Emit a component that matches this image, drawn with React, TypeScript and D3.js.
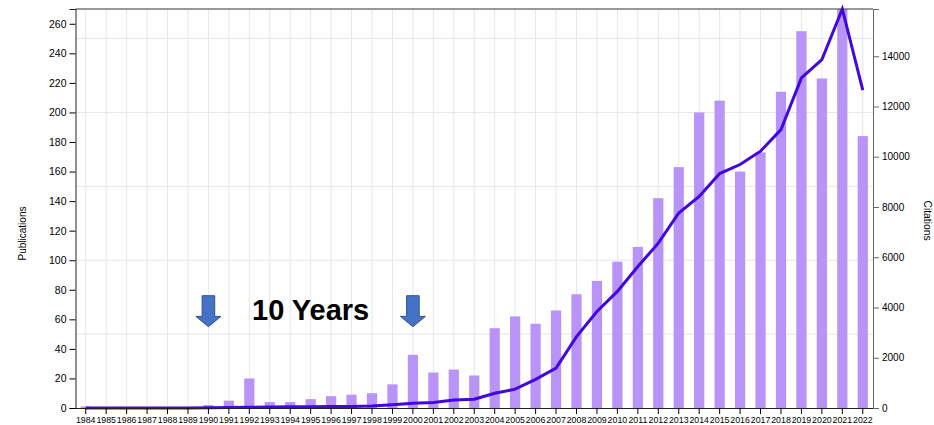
import React, { useEffect, useRef } from 'react';
import * as d3 from 'd3';

const years = [
  '1984', '1985', '1986', '1987', '1988', '1989', '1990', '1991', '1992', '1993',
  '1994', '1995', '1996', '1997', '1998', '1999', '2000', '2001', '2002', '2003',
  '2004', '2005', '2006', '2007', '2008', '2009', '2010', '2011', '2012', '2013',
  '2014', '2015', '2016', '2017', '2018', '2019', '2020', '2021', '2022',
];

const publications = [
  1, 0, 0, 0, 0, 0, 2, 5, 20, 4,
  4, 6, 8, 9, 10, 16, 36, 24, 26, 22,
  54, 62, 57, 66, 77, 86, 99, 109, 142, 163,
  200, 208, 160, 173, 214, 255, 223, 270, 184,
];

const citations = [
  0, 0, 0, 0, 0, 0, 10, 20, 30, 40,
  45, 50, 55, 60, 75, 130, 190, 215, 320, 350,
  586, 750, 1140, 1590, 2840, 3840, 4640, 5630, 6560, 7760,
  8420, 9330, 9690, 10220, 11080, 13140, 13870, 15880, 12650,
];

const gridValues = [50, 100, 150, 200, 250];
const arrowYears = ['1990', '2000'];
const annotation = '10 Years';

const FONT = 'Helvetica, Arial, "Liberation Sans", sans-serif';

function App() {
  const svgRef = useRef<SVGSVGElement>(null);

  const width = 934;
  const height = 425;
  const margin = { top: 9, right: 61, bottom: 17, left: 75.5 };

  useEffect(() => {
    const svg = d3.select(svgRef.current);
    svg.selectAll('*').remove();

    const x = d3.scaleBand<string>()
      .domain(years)
      .range([margin.left, width - margin.right])
      .paddingInner(0.5)
      .paddingOuter(0.25);

    const yLeft = d3.scaleLinear()
      .domain([0, d3.max(publications) as number])
      .range([height - margin.bottom, margin.top]);

    const yRight = d3.scaleLinear()
      .domain([0, d3.max(citations) as number])
      .range([height - margin.bottom, margin.top]);

    const cx = (d: string) => (x(d) as number) + x.bandwidth() / 2;

    // grid
    svg.append('g')
      .selectAll('line')
      .data(years)
      .join('line')
      .attr('x1', d => cx(d))
      .attr('x2', d => cx(d))
      .attr('y1', margin.top)
      .attr('y2', height - margin.bottom)
      .attr('stroke', '#e6e6e6')
      .attr('stroke-width', 1);

    svg.append('g')
      .selectAll('line')
      .data(gridValues)
      .join('line')
      .attr('x1', margin.left)
      .attr('x2', width - margin.right)
      .attr('y1', d => yLeft(d))
      .attr('y2', d => yLeft(d))
      .attr('stroke', '#e6e6e6')
      .attr('stroke-width', 1);

    // bars
    svg.append('g')
      .selectAll('rect')
      .data(years)
      .join('rect')
      .attr('x', d => x(d) as number)
      .attr('width', x.bandwidth())
      .attr('y', (d, i) => yLeft(publications[i]))
      .attr('height', (d, i) => yLeft(0) - yLeft(publications[i]))
      .attr('fill', '#b894f8');

    // citations line
    const line = d3.line<number>()
      .x((d, i) => cx(years[i]))
      .y(d => yRight(d));

    svg.append('path')
      .datum(citations)
      .attr('d', line)
      .attr('fill', 'none')
      .attr('stroke', '#4206e2')
      .attr('stroke-width', 3);

    // top frame line
    svg.append('line')
      .attr('x1', margin.left)
      .attr('x2', width - margin.right)
      .attr('y1', margin.top)
      .attr('y2', margin.top)
      .attr('stroke', '#333');

    // axes
    const gx = svg.append('g')
      .attr('transform', `translate(0, ${height - margin.bottom})`)
      .call(d3.axisBottom(x).tickSizeOuter(0));
    gx.selectAll('text')
      .attr('font-size', 8.8)
      .attr('font-family', FONT)
      .attr('fill', '#000');
    gx.select('.domain').attr('stroke', '#222');

    const gl = svg.append('g')
      .attr('transform', `translate(${margin.left}, 0)`)
      .call(d3.axisLeft(yLeft));
    gl.selectAll('text')
      .attr('font-size', 10.5)
      .attr('font-family', FONT)
      .attr('fill', '#000');
    gl.select('.domain').attr('stroke', '#222');

    const gr = svg.append('g')
      .attr('transform', `translate(${width - margin.right}, 0)`)
      .call(d3.axisRight(yRight).tickFormat(d3.format('d')));
    gr.selectAll('text')
      .attr('font-size', 10)
      .attr('font-family', FONT)
      .attr('fill', '#000');
    gr.select('.domain').attr('stroke', '#666');
    gr.selectAll('.tick line').attr('stroke', '#666');

    // axis titles
    svg.append('text')
      .attr('transform', `translate(26, ${(margin.top + height - margin.bottom) / 2 + 25}) rotate(-90)`)
      .attr('text-anchor', 'middle')
      .attr('font-family', FONT)
      .attr('font-size', 10)
      .text('Publications');

    svg.append('text')
      .attr('transform', `translate(924, ${(margin.top + height - margin.bottom) / 2 + 12}) rotate(90)`)
      .attr('text-anchor', 'middle')
      .attr('font-family', FONT)
      .attr('font-size', 10.3)
      .text('Citations');

    // annotation arrows
    const arrow = (c: number) => {
      const top = yLeft(76);
      const neck = yLeft(62);
      const tip = yLeft(55);
      const sw = 6.3;
      const hw = 12.5;
      return `M${c - sw},${top} H${c + sw} V${neck} H${c + hw} L${c},${tip} L${c - hw},${neck} H${c - sw} Z`;
    };

    svg.append('g')
      .selectAll('path')
      .data(arrowYears)
      .join('path')
      .attr('d', d => arrow(cx(d)))
      .attr('fill', '#4472c4')
      .attr('stroke', '#2f528f')
      .attr('stroke-width', 1);

    svg.append('text')
      .attr('x', (cx(arrowYears[0]) + cx(arrowYears[1])) / 2)
      .attr('y', yLeft(59.5))
      .attr('text-anchor', 'middle')
      .attr('font-family', 'Arial, "Liberation Sans", Helvetica, sans-serif')
      .attr('font-weight', 'bold')
      .attr('font-size', 29)
      .attr('fill', '#000')
      .text(annotation);
  }, []);

  return (
    <div style={{ position: 'absolute', left: 0, top: 0 }}>
      <svg ref={svgRef} width={width} height={height}></svg>
    </div>
  );
}

export default App;
